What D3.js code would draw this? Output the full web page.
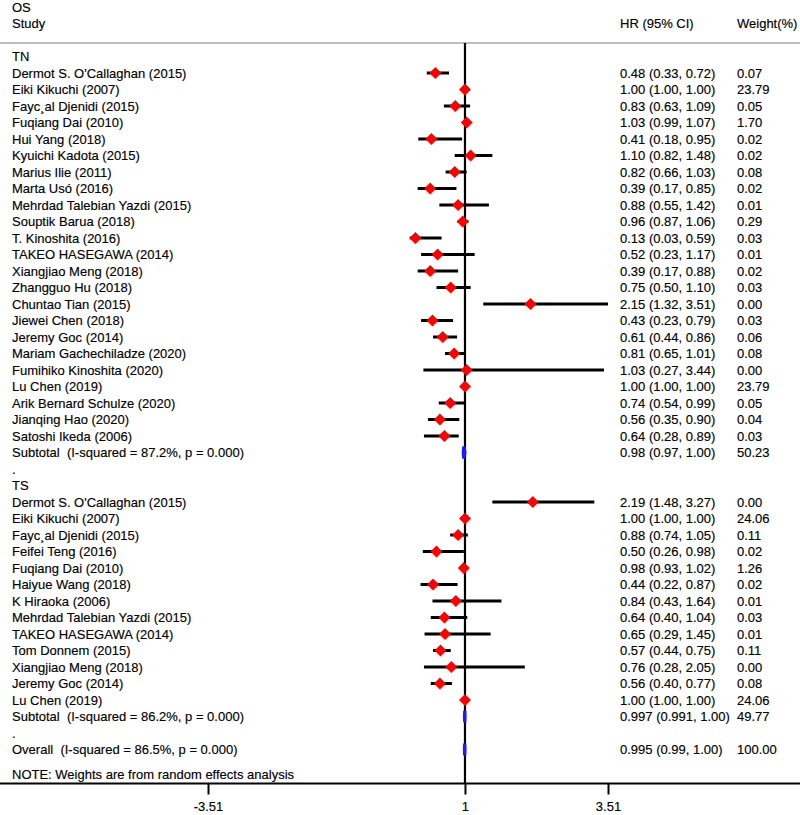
<!DOCTYPE html>
<html>
<head>
<meta charset="utf-8">
<script src="https://cdn.jsdelivr.net/npm/d3@7"></script>
<style>
  html, body { margin: 0; padding: 0; background: #fff; }
  svg { display: block; }
  text { font-family: "Liberation Sans", Arial, sans-serif; font-size: 13px; fill: #000; white-space: pre; stroke: #000; stroke-width: 0.15px; }
</style>
</head>
<body>
<svg id="chart" width="800" height="815"></svg>
<script>
// ---- Data ----
const tnStudies = ["Dermot S. O'Callaghan (2015)", "Eiki Kikuchi (2007)", "Fayc¸al Djenidi (2015)", "Fuqiang Dai (2010)",
  "Hui Yang (2018)", "Kyuichi Kadota (2015)", "Marius Ilie (2011)", "Marta Usó (2016)", "Mehrdad Talebian Yazdi (2015)",
  "Souptik Barua (2018)", "T. Kinoshita (2016)", "TAKEO HASEGAWA (2014)", "Xiangjiao Meng (2018)", "Zhangguo Hu (2018)",
  "Chuntao Tian (2015)", "Jiewei Chen (2018)", "Jeremy Goc (2014)", "Mariam Gachechiladze (2020)", "Fumihiko Kinoshita (2020)",
  "Lu Chen (2019)", "Arik Bernard Schulze (2020)", "Jianqing Hao (2020)", "Satoshi Ikeda (2006)"];
const tnHR = ["0.48","1.00","0.83","1.03","0.41","1.10","0.82","0.39","0.88","0.96","0.13","0.52","0.39","0.75","2.15","0.43","0.61","0.81","1.03","1.00","0.74","0.56","0.64"];
const tnLo = ["0.33","1.00","0.63","0.99","0.18","0.82","0.66","0.17","0.55","0.87","0.03","0.23","0.17","0.50","1.32","0.23","0.44","0.65","0.27","1.00","0.54","0.35","0.28"];
const tnHi = ["0.72","1.00","1.09","1.07","0.95","1.48","1.03","0.85","1.42","1.06","0.59","1.17","0.88","1.10","3.51","0.79","0.86","1.01","3.44","1.00","0.99","0.90","0.89"];
const tnW  = ["0.07","23.79","0.05","1.70","0.02","0.02","0.08","0.02","0.01","0.29","0.03","0.01","0.02","0.03","0.00","0.03","0.06","0.08","0.00","23.79","0.05","0.04","0.03"];
const tnSub = {label: "Subtotal  (I-squared = 87.2%, p = 0.000)", hr: "0.98", lo: "0.97", hi: "1.00", w: "50.23"};

const tsStudies = ["Dermot S. O'Callaghan (2015)", "Eiki Kikuchi (2007)", "Fayc¸al Djenidi (2015)", "Feifei Teng (2016)",
  "Fuqiang Dai (2010)", "Haiyue Wang (2018)", "K Hiraoka (2006)", "Mehrdad Talebian Yazdi (2015)", "TAKEO HASEGAWA (2014)",
  "Tom Donnem (2015)", "Xiangjiao Meng (2018)", "Jeremy Goc (2014)", "Lu Chen (2019)"];
const tsHR = ["2.19","1.00","0.88","0.50","0.98","0.44","0.84","0.64","0.65","0.57","0.76","0.56","1.00"];
const tsLo = ["1.48","1.00","0.74","0.26","0.93","0.22","0.43","0.40","0.29","0.44","0.28","0.40","1.00"];
const tsHi = ["3.27","1.00","1.05","0.98","1.02","0.87","1.64","1.04","1.45","0.75","2.05","0.77","1.00"];
const tsW  = ["0.00","24.06","0.11","0.02","1.26","0.02","0.01","0.03","0.01","0.11","0.00","0.08","24.06"];
const tsSub = {label: "Subtotal  (I-squared = 86.2%, p = 0.000)", hr: "0.997", lo: "0.991", hi: "1.00", w: "49.77"};

const overall = {label: "Overall  (I-squared = 86.5%, p = 0.000)", hr: "0.995", lo: "0.99", hi: "1.00", w: "100.00"};

const axisTicks = [-3.51, 1, 3.51];
const nullValue = 1;

// ---- Build rows ----
const rows = [];
rows.push({type: "group", label: "TN"});
tnStudies.forEach((s, i) => rows.push({type: "study", label: s, hr: tnHR[i], lo: tnLo[i], hi: tnHi[i], w: tnW[i]}));
rows.push(Object.assign({type: "sub"}, tnSub));
rows.push({type: "group", label: "."});
rows.push({type: "group", label: "TS"});
tsStudies.forEach((s, i) => rows.push({type: "study", label: s, hr: tsHR[i], lo: tsLo[i], hi: tsHi[i], w: tsW[i]}));
rows.push(Object.assign({type: "sub"}, tsSub));
rows.push({type: "group", label: "."});
rows.push(Object.assign({type: "sub"}, overall));
rows.forEach((r, i) => r.idx = i);

// ---- Scales ----
const svg = d3.select("#chart");
const x = d3.scaleLinear().domain([-3.51, 3.51]).range([208, 608]);
const y = d3.scaleLinear().domain([0, 1]).range([56.5, 73]);

const axisY = 783.5;
const headerRuleY = 43;
const colLabel = 12, colHR = 620, colW = 737;

// ---- Header ----
svg.append("text").attr("x", colLabel).attr("y", 11.5).text("OS");
svg.append("text").attr("x", colLabel).attr("y", 27.5).text("Study");
svg.append("text").attr("x", colHR).attr("y", 27.5).text("HR (95% CI)");
svg.append("text").attr("x", colW).attr("y", 27.5).text("Weight(%)");
svg.append("line").attr("x1", 0).attr("x2", 800).attr("y1", headerRuleY).attr("y2", headerRuleY)
  .attr("stroke", "#a8a8a8").attr("stroke-width", 1.6);

// ---- Null line ----
svg.append("line").attr("x1", x(nullValue)).attr("x2", x(nullValue))
  .attr("y1", headerRuleY).attr("y2", axisY)
  .attr("stroke", "#000").attr("stroke-width", 2.2);

// ---- Row texts ----
const g = svg.append("g");
g.selectAll("text.lab").data(rows).join("text").attr("class", "lab")
  .attr("x", colLabel).attr("y", d => y(d.idx)).attr("dy", "0.35em").text(d => d.label);
const valRows = rows.filter(d => d.hr !== undefined);
g.selectAll("text.hr").data(valRows).join("text").attr("class", "hr")
  .attr("x", colHR).attr("y", d => y(d.idx)).attr("dy", "0.35em")
  .text(d => `${d.hr} (${d.lo}, ${d.hi})`);
g.selectAll("text.w").data(valRows).join("text").attr("class", "w")
  .attr("x", colW).attr("y", d => y(d.idx)).attr("dy", "0.35em").text(d => d.w);

// ---- CI lines and markers ----
const studies = rows.filter(d => d.type === "study");
g.selectAll("line.ci").data(studies).join("line").attr("class", "ci")
  .attr("x1", d => x(+d.lo)).attr("x2", d => x(+d.hi))
  .attr("y1", d => y(d.idx)).attr("y2", d => y(d.idx))
  .attr("stroke", "#000").attr("stroke-width", 3);
const ds = 6;
g.selectAll("path.pt").data(studies).join("path").attr("class", "pt")
  .attr("d", d => {
    const cx = x(+d.hr), cy = y(d.idx);
    return `M${cx},${cy - ds}L${cx + ds},${cy}L${cx},${cy + ds}L${cx - ds},${cy}Z`;
  })
  .attr("fill", "#ff0000");

// ---- Pooled diamonds ----
const subs = rows.filter(d => d.type === "sub");
g.selectAll("path.sub").data(subs).join("path").attr("class", "sub")
  .attr("d", d => {
    const cy = y(d.idx), h = 6;
    return `M${x(+d.lo)},${cy}L${x(+d.hr)},${cy - h}L${x(+d.hi)},${cy}L${x(+d.hr)},${cy + h}Z`;
  })
  .attr("fill", "#1a1aff").attr("stroke", "#1a1aff").attr("stroke-width", 3.2).attr("stroke-linejoin", "bevel");

// ---- Note ----
svg.append("text").attr("x", colLabel).attr("y", 779).text("NOTE: Weights are from random effects analysis");

// ---- Axis ----
svg.append("line").attr("x1", 0).attr("x2", 800).attr("y1", axisY).attr("y2", axisY)
  .attr("stroke", "#000").attr("stroke-width", 2);
const ax = svg.append("g").attr("transform", `translate(0,${axisY})`)
  .call(d3.axisBottom(x).tickValues(axisTicks).tickSize(11).tickPadding(7).tickFormat(d => String(d)));
ax.select(".domain").remove();
ax.selectAll(".tick line").attr("stroke", "#000").attr("stroke-width", 2);
ax.selectAll(".tick text").style("font-family", "Liberation Sans, Arial, sans-serif").style("font-size", "13px")
  .attr("fill", "#000").attr("stroke", "#000").attr("stroke-width", 0.15);
</script>
</body>
</html>
